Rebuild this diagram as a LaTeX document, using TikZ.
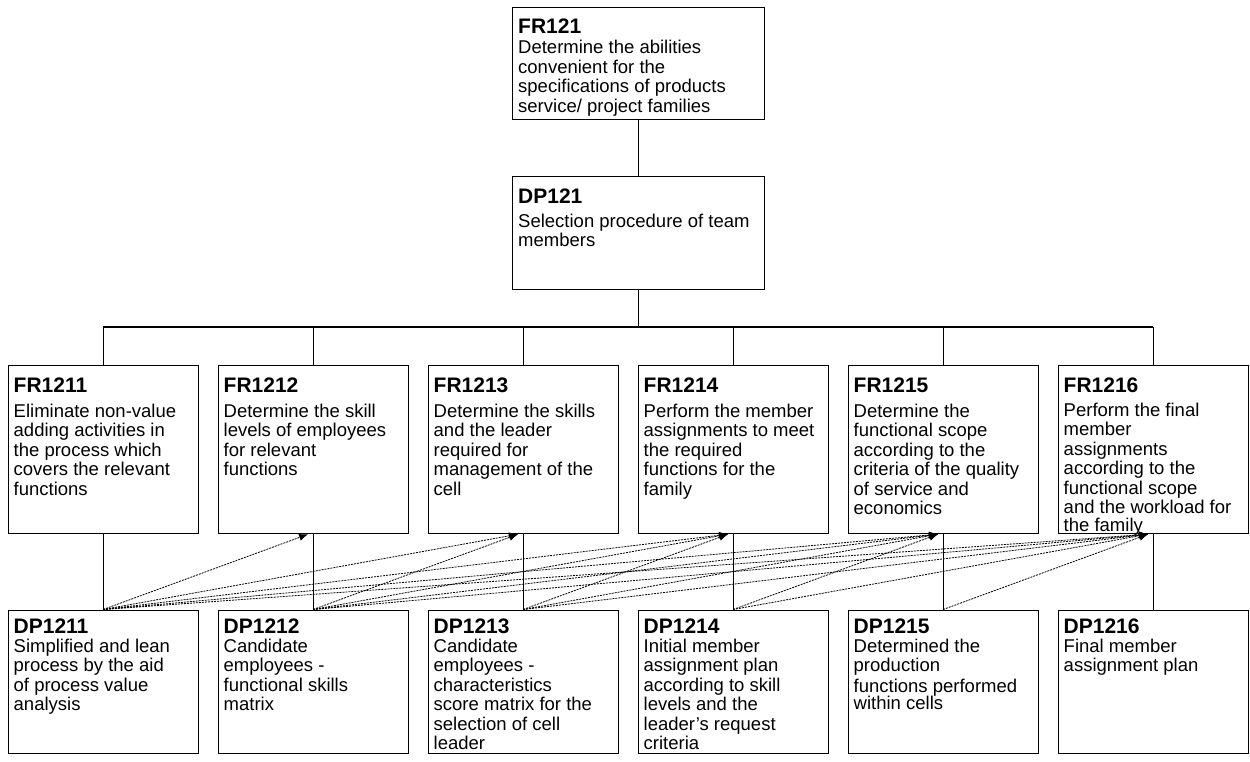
\documentclass[tikz,border=0pt]{standalone}
\usepackage{fontspec}
\setmainfont{Liberation Sans}
\usetikzlibrary{arrows.meta,calc}

% box with a bold title line and a left-aligned description below it
% #1 name, #2 x, #3 y, #4 width, #5 height,
% #6 title baseline offset, #7 offset of the description's top, #8 title, #9 text
\newcommand{\axbox}[9]{%
  \node[boxshape, minimum width=#4pt, minimum height=#5pt] (#1) at (#2,#3) {};
  \node[titletext] (#1-t) at ($(#1.north west)+(6,#6)$) {#8};
  \node[bodytext] (#1-b) at ($(#1.north west)+(6,#7)$) {\strut #9};
}

\tikzset{
  boxshape/.style={draw, line width=1.2pt, inner sep=0pt, anchor=north west},
  titletext/.style={anchor=base west, inner sep=0pt,
    font=\fontsize{21}{24}\selectfont\bfseries},
  bodytext/.style={anchor=north west, inner sep=0pt, align=left,
    font=\fontsize{18.5}{19.5}\selectfont},
  tree/.style={line width=1pt},
  busline/.style={line width=1.6pt},
  dep/.style={line width=0.8pt, dash pattern=on 2pt off 1pt,
    -{Latex[length=9pt,width=7pt]}}
}

\begin{document}
\begin{tikzpicture}[x=1pt,y=-1pt]
\useasboundingbox (0,0) rectangle (1250,761);

% top level (description top = first baseline - 13.65)
\axbox{fr121}{512}{7}{252}{112}{26}{32.8}{FR121}{Determine the abilities\\convenient for the\\specifications of products\\service/ project families}
\axbox{dp121}{512}{176}{252}{113}{27}{37.3}{DP121}{Selection procedure of team\\members}

% functional requirements
\axbox{fr1211}{7.5}{365}{190}{168}{27}{38.5}{FR1211}{Eliminate non-value\\adding activities in\\the process which\\covers the relevant\\functions}
\axbox{fr1212}{217.5}{365}{190}{168}{27}{38.5}{FR1212}{Determine the skill\\levels of employees\\for relevant\\functions}
\axbox{fr1213}{427.5}{365}{190}{168}{27}{38.5}{FR1213}{Determine the skills\\and the leader\\required for\\management of the\\cell}
\axbox{fr1214}{637.5}{365}{190}{168}{27}{38.5}{FR1214}{Perform the member\\assignments to meet\\the required\\functions for the\\family}
\axbox{fr1215}{847.5}{365}{190}{168}{27}{38.5}{FR1215}{Determine the\\functional scope\\according to the\\criteria of the quality\\of service and\\economics}
\axbox{fr1216}{1057.5}{365}{190}{168}{27}{37.3}{FR1216}{Perform the final\\member\\assignments\\according to the\\functional scope\\and the workload for\\[-1.5pt]the family}

% design parameters
\axbox{dp1211}{7.5}{609.5}{190}{143}{23.5}{29}{DP1211}{Simplified and lean\\process by the aid\\of process value\\analysis}
\axbox{dp1212}{217.5}{609.5}{190}{143}{23.5}{29}{DP1212}{Candidate\\employees -\\functional skills\\matrix}
\axbox{dp1213}{427.5}{609.5}{190}{143}{23.5}{29}{DP1213}{Candidate\\employees -\\characteristics\\score matrix for the\\selection of cell\\leader}
\axbox{dp1214}{637.5}{609.5}{190}{143}{23.5}{29}{DP1214}{Initial member\\assignment plan\\according to skill\\levels and the\\leader’s request\\criteria}
\axbox{dp1215}{847.5}{609.5}{190}{143}{23.5}{29}{DP1215}{Determined the\\production\\[1pt]functions performed\\[-2pt]within cells}
\axbox{dp1216}{1057.5}{609.5}{190}{143}{23.5}{29}{DP1216}{Final member\\assignment plan}

% hierarchy
\draw[tree] (fr121.south) -- (dp121.north);
\coordinate (busL) at (fr1211.north |- 0,327);
\coordinate (busR) at (fr1216.north |- 0,327);
\draw[tree] (dp121.south) -- (dp121.south |- busL);
\draw[busline] (busL) -- (busR);
\foreach \k in {1,...,6} {
  \draw[tree] (fr121\k.north |- busL) -- (fr121\k.north);
  \draw[tree] (fr121\k.south) -- (dp121\k.north);
}

% off-diagonal couplings: each design parameter acts on later requirements
\foreach \i in {1,...,5} {
  \pgfmathtruncatemacro{\s}{\i+1}
  \foreach \j in {\s,...,6} {
    \draw[dep] (dp121\i.north) -- ($(fr121\j.south)+(-5,0)$);
  }
}
\end{tikzpicture}
\end{document}
